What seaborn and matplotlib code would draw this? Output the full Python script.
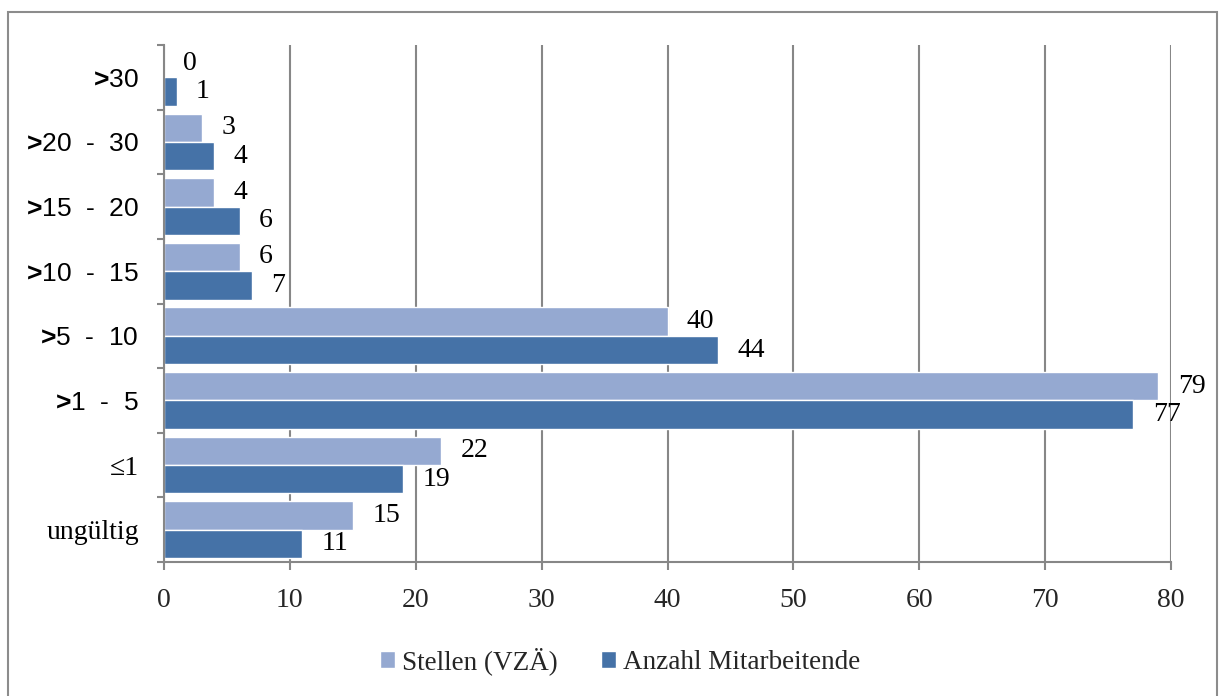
import matplotlib
matplotlib.use("Agg")
import matplotlib.pyplot as plt
import seaborn as sns
import pandas as pd
import numpy as np
from matplotlib.patches import Rectangle

# Data: employment size classes, top to bottom
GT = r"$\mathbf{>}\hspace{-0.2}$"
categories = [GT + "30", GT + "20  -  30", GT + "15  -  20",
              GT + "10  -  15", GT + "5  -  10", GT + "1  -  5",
              "≤1", "ungültig"]
series_names = ["Stellen (VZÄ)", "Anzahl Mitarbeitende"]
stellen = [0, 3, 4, 6, 40, 79, 22, 15]
mitarbeitende = [1, 4, 6, 7, 44, 77, 19, 11]
x_ticks = [0, 10, 20, 30, 40, 50, 60, 70, 80]

LIGHT = "#95A9D1"
DARK = "#4572A7"
GRID = "#878787"

sns.set_theme(style="white")
plt.rcParams["mathtext.fontset"] = "custom"
plt.rcParams["mathtext.rm"] = "Liberation Sans"
plt.rcParams["mathtext.bf"] = "Liberation Sans:bold"

df = pd.DataFrame({
    "Klasse": categories * 2,
    "Wert": stellen + mitarbeitende,
    "Reihe": [series_names[0]] * len(categories) + [series_names[1]] * len(categories),
})

W, H = 1221, 696
fig = plt.figure(figsize=(W / 100, H / 100), dpi=100)
ax = fig.add_axes([164 / W, 1 - 562 / H, (1171 - 164) / W, (562 - 45) / H])

sns.barplot(data=df, x="Wert", y="Klasse", hue="Reihe", order=categories,
            hue_order=series_names, palette=[LIGHT, DARK], saturation=1,
            orient="h", width=0.88, errorbar=None, ax=ax, legend=True)

# Value labels at the end of each bar
for cont in ax.containers:
    ax.bar_label(cont, labels=[f"{int(v)}" for v in cont.datavalues],
                 padding=14, fontsize=20, family="Liberation Serif", color="black")

ax.set_xlim(0, 80)
ax.set_ylim(len(categories) - 0.5, -0.5)
ax.set_xticks(x_ticks)
ax.set_xticklabels([str(t) for t in x_ticks], family="Liberation Serif", fontsize=20)
ax.set_xlabel("")
ax.set_ylabel("")

# Category boundaries carry the tick marks on the y axis
ax.set_yticks(np.arange(len(categories)))
ax.set_yticks(np.arange(len(categories) + 1) - 0.5, minor=True)
ax.tick_params(axis="y", which="major", length=0, pad=18)
ax.tick_params(axis="y", which="minor", length=5, width=1.5, color=GRID, direction="out", left=True)
ax.tick_params(axis="x", which="major", length=6, width=1.5, color=GRID, direction="out",
               bottom=True, pad=12.5)
for lbl in ax.get_yticklabels():
    txt = lbl.get_text()
    if txt.startswith("$"):
        lbl.set_fontfamily("Liberation Sans")
        lbl.set_fontsize(19)
    else:
        lbl.set_fontfamily("Liberation Serif")
        lbl.set_fontsize(20)
    lbl.set_color("black")

ax.xaxis.grid(True, color=GRID, linewidth=1.5)
ax.yaxis.grid(False)
ax.set_axisbelow(True)
for side in ("top", "right"):
    ax.spines[side].set_visible(False)
for side in ("left", "bottom"):
    ax.spines[side].set_color(GRID)
    ax.spines[side].set_linewidth(1.5)

# Legend below the plot
handles, labels = ax.get_legend_handles_labels()
ax.get_legend().remove()
fig.legend(handles, labels, loc="center", bbox_to_anchor=(620 / W, 1 - 661 / H),
           ncol=2, frameon=False, prop={"family": "Liberation Serif", "size": 19.5},
           handlelength=0.55, handleheight=0.55, handletextpad=0.25, columnspacing=1.6)

# Outer chart frame
fig.patches.append(Rectangle((8 / W, -0.02), (1217 - 8) / W, 1.02 - 12 / H,
                             transform=fig.transFigure, fill=False,
                             edgecolor="#8c8c8c", linewidth=1.5))

fig.savefig("out.png", dpi=100)
